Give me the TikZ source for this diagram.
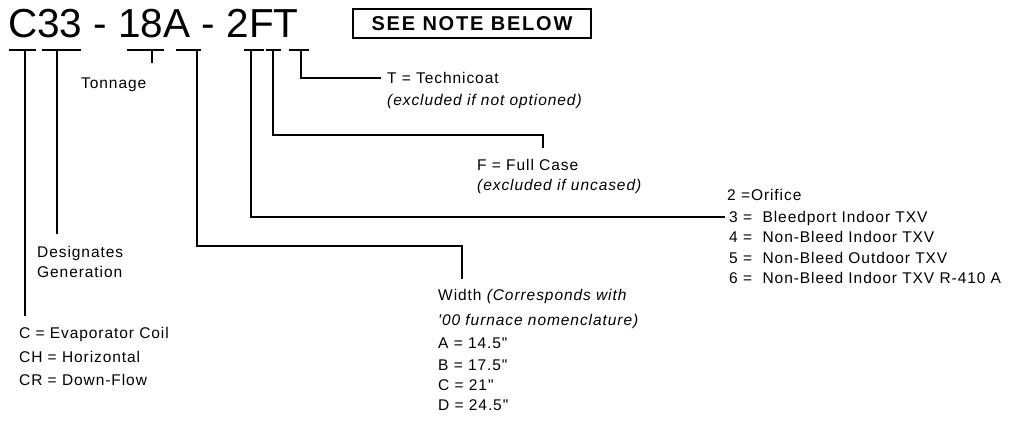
\documentclass[tikz,border=0pt]{standalone}
\usepackage{fontspec}
\setmainfont{Liberation Sans}
\newfontfamily\labfont[LetterSpace=6]{Liberation Sans}
\newfontfamily\boxfont[LetterSpace=9]{Liberation Sans}
\begin{document}
\begin{tikzpicture}[x=1pt,y=-1pt,
  wire/.style={line width=1.3pt, line cap=rect},
  lbl/.style={anchor=base west, inner sep=0pt, font={\labfont\fontsize{15.5}{17}\selectfont}},
  ilbl/.style={anchor=base west, inner sep=0pt, font={\labfont\fontsize{15.5}{17}\selectfont\itshape}},
  notebox/.style={draw, line width=1.3pt, inner sep=0pt, minimum width=238pt, minimum height=29pt,
    font={\boxfont\bfseries\fontsize{20}{22}\selectfont}}]
\useasboundingbox (0,0) rectangle (1027,421);
% title
\node[anchor=base west, inner sep=0pt, font={\fontsize{40.5}{44}\selectfont}] (title) at (8,37.5) {C33 - 18A - 2FT};
\node[notebox] (note) at (472,23.5) {SEE NOTE BELOW};
% bar coordinates
\coordinate (b1l) at (10,50);  \coordinate (b1r) at (35,50);  \coordinate (b1) at (25,50);
\coordinate (b2l) at (43,50);  \coordinate (b2r) at (80,50);  \coordinate (b2) at (57,50);
\coordinate (b3l) at (128,50); \coordinate (b3r) at (163,50); \coordinate (b3) at (152,50);
\coordinate (b4l) at (177,50); \coordinate (b4r) at (200,50); \coordinate (b4) at (197,50);
\coordinate (b5l) at (245,50); \coordinate (b5r) at (263,50); \coordinate (b5) at (251,50);
\coordinate (b6l) at (267,50); \coordinate (b6r) at (280,50); \coordinate (b6) at (273,50);
\coordinate (b7l) at (290,50); \coordinate (b7r) at (308,50); \coordinate (b7) at (301,50);
\foreach \i in {1,...,7}{\draw[wire] (b\i l) -- (b\i r);}
% end coordinates
\coordinate (e1) at (25,315);
\coordinate (e2) at (57,233);
\coordinate (e3) at (152,62);
\coordinate (e4) at (462,278);
\coordinate (e5) at (724,217);
\coordinate (e6) at (543,147);
\coordinate (e7) at (380,78);
% labels
\node[lbl] (tonnage) at (81,88) {Tonnage};
\node[lbl] (tech) at (387,83) {T = Technicoat};
\node[ilbl] (tech2) at (387,105) {(excluded if not optioned)};
\node[lbl] (full) at (477,170) {F = Full Case};
\node[ilbl] (full2) at (477,190) {(excluded if uncased)};
\node[lbl] (o2) at (727,200) {2 =Orifice};
\node[lbl] (o3) at (729,222) {3 = \ Bleedport Indoor TXV};
\node[lbl] (o4) at (729,242) {4 = \ Non-Bleed Indoor TXV};
\node[lbl] (o5) at (729,263) {5 = \ Non-Bleed Outdoor TXV};
\node[lbl] (o6) at (729,283) {6 = \ Non-Bleed Indoor TXV R-410 A};
\node[lbl] (des1) at (37,257) {Designates};
\node[lbl] (des2) at (37,277) {Generation};
\node[lbl] (c1) at (19,338) {C = Evaporator Coil};
\node[lbl] (c2) at (19,362) {CH = Horizontal};
\node[lbl] (c3) at (19,385) {CR = Down-Flow};
\node[lbl] (w1) at (438,300) {Width \textit{(Corresponds with}};
\node[ilbl] (w2) at (438,325) {'00 furnace nomenclature)};
\node[lbl] (wa) at (438,348) {A = 14.5"};
\node[lbl] (wb) at (438,370) {B = 17.5"};
\node[lbl] (wc) at (438,390) {C = 21"};
\node[lbl] (wd) at (438,410) {D = 24.5"};
% connectors
\draw[wire] (b1) -- (e1);
\draw[wire] (b2) -- (e2);
\draw[wire] (b3) -- (e3);
\draw[wire] (b4) |- (e4 |- 0,246) -- (e4);
\draw[wire] (b5) |- (e5);
\draw[wire] (b6) |- (e6 |- 0,135) -- (e6);
\draw[wire] (b7) |- (e7);
\end{tikzpicture}
\end{document}
